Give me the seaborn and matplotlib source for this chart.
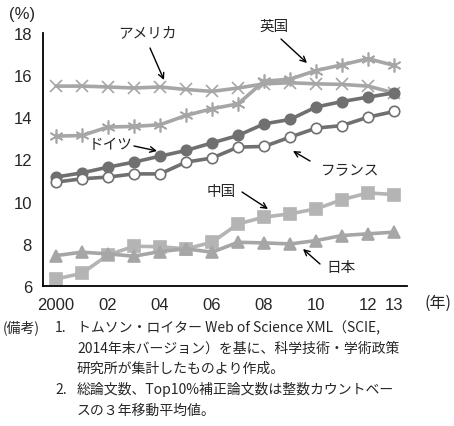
import numpy as np
import pandas as pd
import matplotlib
matplotlib.use('Agg')
import matplotlib.pyplot as plt
import seaborn as sns

# Data (share of papers, %)
years = list(range(2000, 2014))
usa     = [15.47, 15.47, 15.43, 15.38, 15.43, 15.31, 15.22, 15.38, 15.58, 15.63, 15.58, 15.55, 15.47, 15.15]
uk      = [13.10, 13.13, 13.53, 13.56, 13.64, 14.08, 14.40, 14.63, 15.70, 15.80, 16.21, 16.48, 16.77, 16.45]
germany = [11.16, 11.36, 11.63, 11.87, 12.15, 12.42, 12.78, 13.13, 13.68, 13.89, 14.48, 14.74, 14.95, 15.15]
france  = [10.92, 11.08, 11.16, 11.31, 11.31, 11.87, 12.06, 12.58, 12.61, 13.05, 13.48, 13.60, 14.00, 14.27]
china   = [6.33, 6.60, 7.47, 7.88, 7.86, 7.76, 8.07, 8.94, 9.26, 9.42, 9.65, 10.09, 10.41, 10.33]
japan   = [7.44, 7.60, 7.52, 7.41, 7.63, 7.76, 7.60, 8.07, 8.04, 7.99, 8.15, 8.39, 8.47, 8.55]

xtick_pos = [0, 2, 4, 6, 8, 10, 12, 13]
xtick_labels = ['2000', '02', '04', '06', '08', '10', '12', '13']

sns.set_style('white')
plt.rcParams['font.family'] = ['Liberation Sans Narrow', 'Liberation Sans', 'Noto Sans CJK JP', 'DejaVu Sans']

fig = plt.figure(figsize=(4.54, 4.27), dpi=100)
ax = fig.add_axes([0.0947, 0.328, 0.802, 0.593])

idx = np.arange(len(years))
light = '#a6a6a6'
dark = '#707070'

# series styles: (values, line color, marker, marker face, marker edge, marker size)
series = [
    (usa, light, 'x', light, light, 8),
    (uk, light, (6, 2, 0), light, light, 10),
    (germany, dark, 'o', dark, dark, 7.5),
    (france, dark, 'o', 'white', dark, 7.5),
    (china, '#b4b4b4', 's', '#b4b4b4', '#b4b4b4', 8),
    (japan, light, '^', light, light, 8),
]
for vals, col, mk, mfc, mec, ms in series:
    sns.lineplot(x=idx, y=vals, ax=ax, color=col, lw=2.6, marker=mk,
                 markerfacecolor=mfc, markeredgecolor=mec, markersize=ms,
                 markeredgewidth=1.2, legend=False)

ax.set_xlim(-0.5, 13.5)
ax.set_ylim(6, 18)
ax.set_yticks([6, 8, 10, 12, 14, 16, 18])
ax.set_xticks(xtick_pos)
ax.set_xticklabels(xtick_labels)
ax.tick_params(axis='y', direction='in', length=4, width=1.2, labelsize=12, pad=8, color='black')
ax.tick_params(axis='x', length=0, labelsize=12, pad=8)
for s in ['top', 'right']:
    ax.spines[s].set_visible(False)
for s in ['left', 'bottom']:
    ax.spines[s].set_color('black')
    ax.spines[s].set_linewidth(1.3)
ax.set_xlabel('')
ax.set_ylabel('')

jp = ['Noto Sans CJK JP', 'DejaVu Sans']
fig.text(22 / 454, 1 - 15 / 427, '(%)', fontsize=12, ha='center', va='center')
fig.text(451 / 454, 1 - 303 / 427, '(年)', fontsize=11.5, ha='right', va='center', family=jp)

def px(x, y):
    return (x / 454, 1 - y / 427)

arrow = dict(arrowstyle='->', color='black', lw=1.0, shrinkA=0, shrinkB=0)
labels = [
    ('アメリカ', (147, 33), (150, 49), (164, 81)),
    ('英国', (274, 27), (281, 40), (307, 64)),
    ('ドイツ', (111, 145), (134, 147), (157, 152)),
    ('フランス', (350, 170), (310, 162), (293, 152)),
    ('中国', (221, 192), (242, 193), (268, 210)),
    ('日本', (341, 268), (320, 265), (303, 250)),
]
for txt, tpos, a0, a1 in labels:
    fig.text(*px(*tpos), txt, fontsize=10.5, ha='center', va='center', family=jp)
    ax.annotate('', xy=px(*a1), xytext=px(*a0), xycoords='figure fraction',
                textcoords='figure fraction', arrowprops=arrow)

notes = [
    (3, 328, '(備考)'),
    (55, 328, '1.'),
    (77, 328, 'トムソン・ロイター Web of Science XML（SCIE,'),
    (77, 349, '2014年末バージョン）を基に、科学技術・学術政策'),
    (77, 369, '研究所が集計したものより作成。'),
    (55, 390, '2.'),
    (77, 390, '総論文数、Top10%補正論文数は整数カウントベー'),
    (77, 411, 'スの３年移動平均値。'),
]
for x, y, t in notes:
    fig.text(*px(x, y), t, fontsize=10, ha='left', va='center', family=jp)

fig.savefig('out.png', dpi=100)
